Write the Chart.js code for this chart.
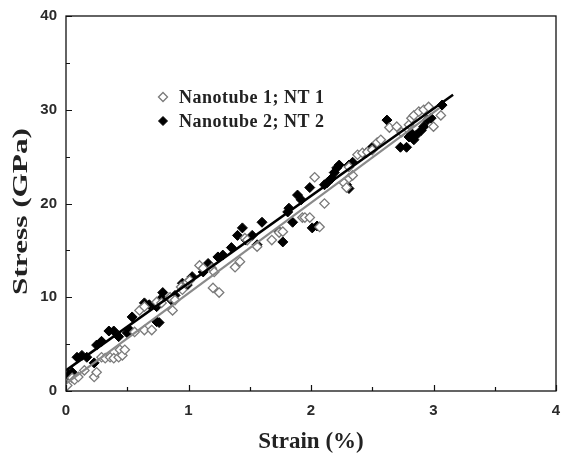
<!DOCTYPE html>
<html><head><meta charset="utf-8">
<script src="https://cdn.jsdelivr.net/npm/chart.js@4/dist/chart.umd.min.js"></script>
<style>html,body{margin:0;padding:0;background:#fff}#c{display:block}</style>
</head><body>
<canvas id="c" width="562" height="460"></canvas>
<script>
// ---- data ----
const seriesLabels = ['Nanotube 1; NT 1', 'Nanotube 2; NT 2'];
const xTitle = 'Strain (%)';
const yTitle = 'Stress (GPa)';
const xTickValues = [0, 1, 2, 3, 4];
const yTickValues = [0, 10, 20, 30, 40];

const nt1Strain = [0.01,0.05,0.07,0.10,0.15,0.23,0.25,0.29,0.32,0.36,0.39,0.43,0.44,0.46,0.48,0.56,0.60,0.64,0.64,0.70,0.74,0.78,0.85,0.87,0.89,0.94,0.95,0.99,1.01,1.09,1.12,1.19,1.20,1.21,1.25,1.38,1.42,1.46,1.48,1.56,1.68,1.74,1.77,1.93,1.95,1.99,2.03,2.07,2.11,2.27,2.29,2.31,2.31,2.34,2.38,2.42,2.46,2.50,2.54,2.57,2.64,2.70,2.74,2.80,2.82,2.84,2.88,2.92,2.96,3.00,3.06];
const nt1Stress = [0.6,1.4,1.2,1.5,2.2,1.5,2.0,3.6,3.5,3.6,3.5,3.6,4.4,3.8,4.4,6.3,8.6,6.5,9.0,6.5,9.5,9.4,10.0,8.6,9.7,11.1,10.8,11.6,11.8,13.4,13.1,13.1,11.0,12.7,10.5,13.2,13.8,16.3,16.1,15.4,16.1,16.9,17.0,18.5,18.5,18.5,22.8,17.5,20.0,22.2,21.7,23.9,22.7,23.0,25.2,25.4,25.5,25.7,26.5,26.8,28.1,28.2,27.6,28.4,29.1,29.4,29.8,30.0,30.3,28.2,29.4];

const nt2Strain = [0.02,0.05,0.09,0.13,0.17,0.23,0.25,0.29,0.35,0.39,0.43,0.50,0.52,0.54,0.64,0.68,0.74,0.74,0.76,0.78,0.79,0.86,0.89,0.95,0.99,1.03,1.12,1.16,1.24,1.28,1.35,1.40,1.44,1.47,1.52,1.56,1.60,1.74,1.77,1.81,1.82,1.85,1.89,1.92,1.99,2.01,2.05,2.11,2.13,2.17,2.19,2.21,2.23,2.29,2.31,2.31,2.34,2.45,2.48,2.50,2.62,2.73,2.78,2.80,2.82,2.84,2.86,2.90,2.92,2.95,2.98,3.07];
const nt2Stress = [1.7,2.0,3.6,3.8,3.6,3.0,4.9,5.3,6.4,6.4,5.8,6.2,6.5,7.9,9.4,9.2,9.0,7.4,7.3,9.9,10.5,9.7,10.2,11.5,11.3,12.2,12.7,13.6,14.3,14.5,15.3,16.6,17.4,16.1,16.6,15.6,18.0,17.0,15.9,19.1,19.5,18.0,20.9,20.4,21.7,17.4,17.6,22.0,22.2,22.7,23.3,23.8,24.1,22.0,21.6,24.1,24.4,25.4,25.7,26.0,28.9,26.0,26.0,27.1,27.5,26.8,27.3,27.8,28.2,28.9,29.1,30.5];

// linear fit lines (end points)
const fit1Strain = [0, 3.05];
const fit1Stress = [0.8, 30.2];
const fit2Strain = [0, 3.16];
const fit2Stress = [2.2, 31.6];

const toXY = (xs, ys) => xs.map((x, i) => ({x: x, y: ys[i]}));

const TICK_FONT = {family: '"Liberation Sans", Arial, sans-serif', size: 15, weight: 'bold'};
const SERIF = '"Liberation Serif", "Times New Roman", serif';

const boxAndTicks = {
  id: 'boxAndTicks',
  afterDatasetsDraw(chart) {
    const {ctx, chartArea: a, scales: {x, y}} = chart;
    ctx.save();
    ctx.strokeStyle = '#111';
    ctx.lineWidth = 1.3;
    ctx.strokeRect(a.left, a.top, a.right - a.left, a.bottom - a.top);
    ctx.lineWidth = 1.2;
    ctx.beginPath();
    for (let v = x.min; v <= x.max + 1e-9; v += 0.5) {
      const px = Math.round(x.getPixelForValue(v)) + 0.5;
      const len = Math.abs(v - Math.round(v)) < 1e-9 ? 6 : 4;
      ctx.moveTo(px, a.bottom); ctx.lineTo(px, a.bottom - len);
    }
    for (let v = y.min; v <= y.max + 1e-9; v += 5) {
      const py = Math.round(y.getPixelForValue(v)) + 0.5;
      const len = (v % 10 === 0) ? 6 : 4;
      ctx.moveTo(a.left, py); ctx.lineTo(a.left + len, py);
    }
    ctx.stroke();
    ctx.restore();
  }
};

const titlesAndLegend = {
  id: 'titlesAndLegend',
  afterDraw(chart) {
    const {ctx, chartArea: a} = chart;
    ctx.save();
    ctx.fillStyle = '#222';
    ctx.textAlign = 'center';
    ctx.textBaseline = 'middle';
    // x title
    ctx.font = 'bold 23px ' + SERIF;
    ctx.fillText(xTitle, (a.left + a.right) / 2, 442);
    // y title (rotated, stretched along its length like the reference)
    ctx.save();
    ctx.translate(21, (a.top + a.bottom) / 2 + 8);
    ctx.rotate(-Math.PI / 2);
    ctx.scale(1.42, 1);
    ctx.font = 'bold 22px ' + SERIF;
    ctx.fillText(yTitle, 0, 0);
    ctx.restore();
    // legend
    const items = chart.data.datasets.filter(d => d.inLegend).sort((p, q) => p.legendIndex - q.legendIndex);
    ctx.textAlign = 'left';
    ctx.font = 'bold 18px ' + SERIF;
    ctx.letterSpacing = '0.5px';
    items.forEach((d, i) => {
      const mx = a.left + 97, my = a.top + 81 + i * 24;
      ctx.fillStyle = d.backgroundColor;
      ctx.strokeStyle = d.borderColor;
      ctx.lineWidth = d.borderWidth;
      Chart.helpers.drawPoint(ctx, {pointStyle: 'rectRot', radius: 4.5, borderWidth: d.borderWidth}, mx, my);
      ctx.fillStyle = '#222';
      ctx.fillText(d.label, mx + 16, my + 1);
    });
    ctx.restore();
  }
};

new Chart(document.getElementById('c'), {
  type: 'scatter',
  data: {
    datasets: [
      {label: 'fit 2', type: 'line', data: toXY(fit2Strain, fit2Stress), borderColor: '#000', borderWidth: 2.5, pointRadius: 0, fill: false, order: 0},
      {label: 'fit 1', type: 'line', data: toXY(fit1Strain, fit1Stress), borderColor: '#8a8a8a', borderWidth: 2.2, pointRadius: 0, fill: false, order: 1},
      {label: seriesLabels[1], inLegend: true, legendIndex: 1, data: toXY(nt2Strain, nt2Stress), pointStyle: 'rectRot', pointRadius: 5, backgroundColor: '#000', borderColor: '#000', borderWidth: 1, order: 3},
      {label: seriesLabels[0], inLegend: true, legendIndex: 0, data: toXY(nt1Strain, nt1Stress), pointStyle: 'rectRot', pointRadius: 4.7, backgroundColor: '#fff', borderColor: '#7a7a7a', borderWidth: 1.3, order: 2}
    ]
  },
  options: {
    responsive: false,
    animation: false,
    events: [],
    layout: {padding: {left: 0, right: 4, top: 16, bottom: 0}},
    plugins: {legend: {display: false}, tooltip: {enabled: false}},
    scales: {
      x: {
        type: 'linear', min: 0, max: 4,
        afterBuildTicks: s => { s.ticks = xTickValues.map(v => ({value: v})); },
        afterFit: s => { s.height = 69; s.paddingLeft = 0; s.paddingRight = 0; },
        ticks: {font: TICK_FONT, color: '#2a2a2a', padding: 11, maxRotation: 0},
        grid: {display: false, drawTicks: false, tickLength: 0},
        border: {display: false},
        title: {display: false, text: xTitle}
      },
      y: {
        type: 'linear', min: 0, max: 40,
        afterBuildTicks: s => { s.ticks = yTickValues.map(v => ({value: v})); },
        afterFit: s => { s.width = 66; s.paddingTop = 0; s.paddingBottom = 0; },
        ticks: {font: TICK_FONT, color: '#2a2a2a', padding: 9},
        grid: {display: false, drawTicks: false, tickLength: 0},
        border: {display: false},
        title: {display: false, text: yTitle}
      }
    }
  },
  plugins: [boxAndTicks, titlesAndLegend]
});
</script>
</body></html>
